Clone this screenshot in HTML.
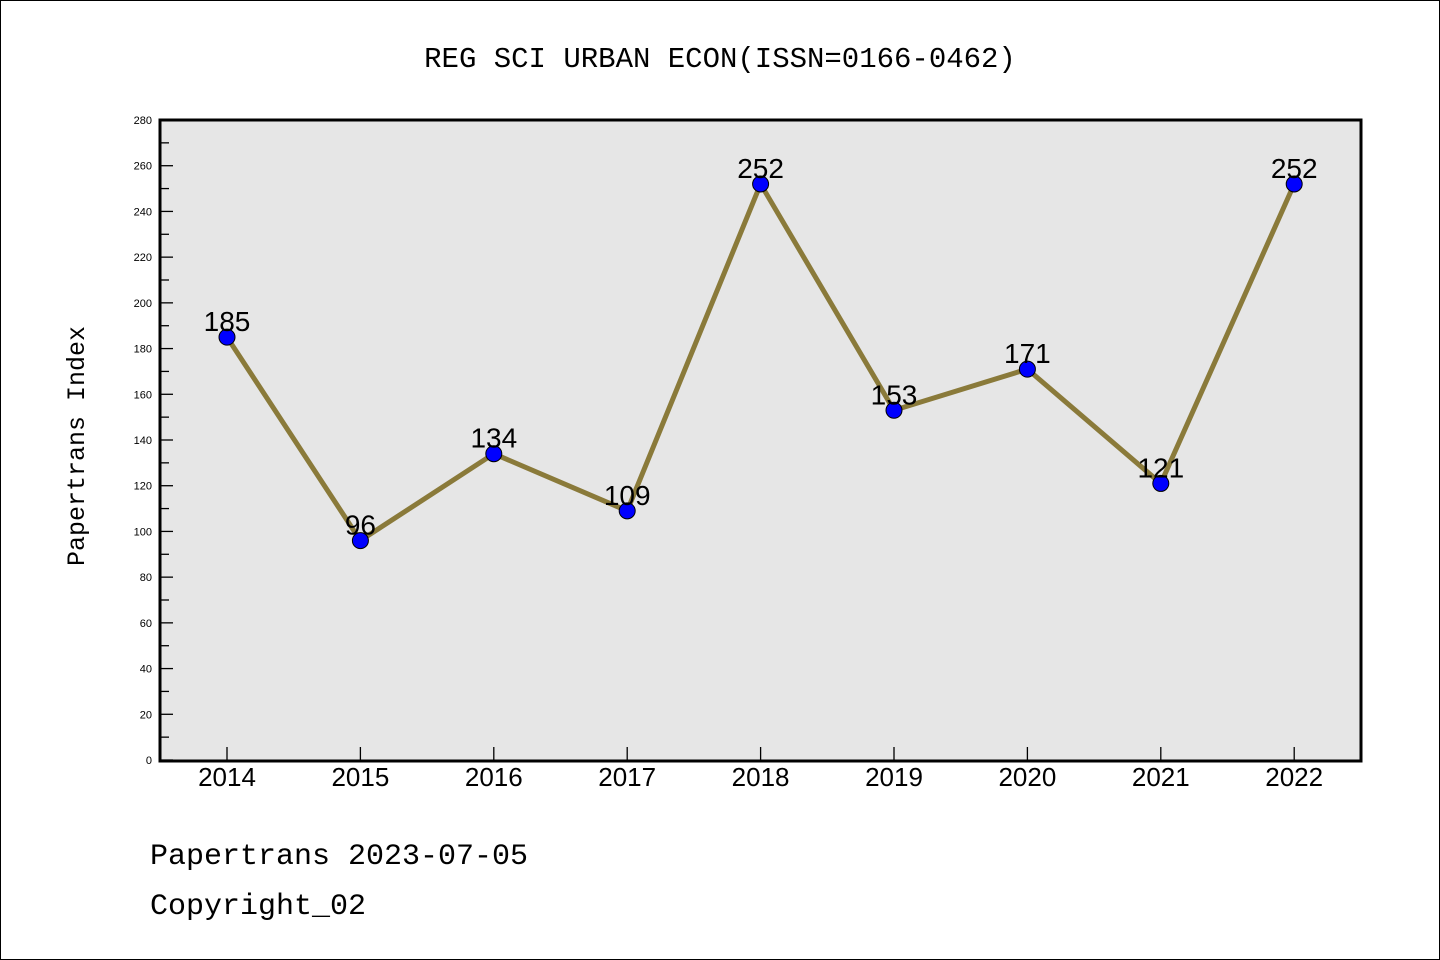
<!DOCTYPE html>
<html><head><meta charset="utf-8"><style>
body{margin:0;background:#fff;}
svg{display:block;font-family:"Liberation Sans",sans-serif;}
.mono{font-family:"Liberation Mono",monospace;}
</style></head><body>
<svg id="chart" width="1440" height="960">
<rect x="0.5" y="0.5" width="1439" height="959" fill="#fff" stroke="#000"/>
<text class="mono" x="720" y="67" font-size="29" text-anchor="middle">REG SCI URBAN ECON(ISSN=0166-0462)</text>
<rect x="160" y="120" width="1201" height="641" fill="#e6e6e6" stroke="#000" stroke-width="3"/>
<text class="mono" transform="translate(84,446) rotate(-90)" font-size="25" text-anchor="middle">Papertrans Index</text>
<g id="yticks"></g><g id="xticks"></g><g id="series"></g>
<text class="mono" x="150" y="864" font-size="30">Papertrans 2023-07-05</text>
<text class="mono" x="150" y="914" font-size="30">Copyright_02</text>
</svg>
<script>
const years=["2014","2015","2016","2017","2018","2019","2020","2021","2022"];
const values=[185,96,134,109,252,153,171,121,252];
const yTicks=[0,20,40,60,80,100,120,140,160,180,200,220,240,260,280];
const NS="http://www.w3.org/2000/svg";
const x=i=>227+i*133.4;
const y=v=>760-v/280*640;
function mk(t,a,p){const e=document.createElementNS(NS,t);for(const k in a)e.setAttribute(k,a[k]);p.appendChild(e);return e;}
const yt=document.getElementById('yticks');
yTicks.forEach((v,i)=>{
  const l=mk('line',{x1:160,x2:173,y1:y(v),y2:y(v),stroke:'#000','stroke-width':1.3},yt);
  
  
  const t=mk('text',{x:152,y:y(v)+4,'font-size':11,'text-anchor':'end'},yt);t.textContent=v;
  
  
  if(i<yTicks.length-1){const m=mk('line',{x1:160,x2:169,y1:y(v+10),y2:y(v+10),stroke:'#000','stroke-width':1.3},yt);
  
  }
});
const xt=document.getElementById('xticks');
years.forEach((yr,i)=>{
  const l=mk('line',{x1:x(i),x2:x(i),y1:760,y2:747,stroke:'#000','stroke-width':1.3},xt);
  
  
  const t=mk('text',{x:x(i),y:786,'font-size':26,'text-anchor':'middle'},xt);t.textContent=yr;
  
  
});
const s=document.getElementById('series');
const line=mk('polyline',{points:values.map((v,i)=>x(i)+','+y(v)).join(' '),fill:'none',stroke:'#8a7a3a','stroke-width':5,'stroke-linejoin':'round'},s);


values.forEach((v,i)=>{
  const c=mk('circle',{cx:x(i),cy:y(v),r:8,fill:'#0000ff',stroke:'#000','stroke-width':1},s);
  
  
  const t=mk('text',{x:x(i),y:y(v)-6,'font-size':28,'text-anchor':'middle'},s);t.textContent=v;
  
  
});
</script>
</body></html>
